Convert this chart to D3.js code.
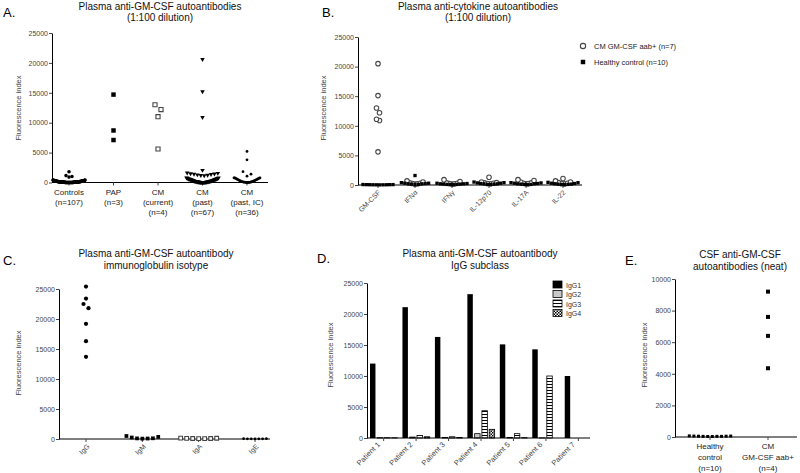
<!DOCTYPE html>
<html>
<head>
<meta charset="utf-8">
<script src="https://cdnjs.cloudflare.com/ajax/libs/d3/7.8.5/d3.min.js"></script>
<style>
  body { margin: 0; background: #fff; }
  svg { font-family: "Liberation Sans", Arial, sans-serif; }
</style>
</head>
<body>
<svg id="fig" width="800" height="473"></svg>
<script>
// ---- data ----
const ticks25k = [0, 5000, 10000, 15000, 20000, 25000];
const ticks10k = [0, 2000, 4000, 6000, 8000, 10000];

// A. plasma anti-GM-CSF (1:100)
const aGroups = ["Controls", "PAP", "CM (current)", "CM (past)", "CM (past, IC)"];
const aLabels = [["Controls", "(n=107)"], ["PAP", "(n=3)"], ["CM", "(current)", "(n=4)"],
                 ["CM", "(past)", "(n=67)"], ["CM", "(past, IC)", "(n=36)"]];
const aControls = [1800, 1150, 1000, 900,
  420, 400, 380, 360, 350, 340, 330, 320, 310, 300,
  290, 280, 270, 265, 260, 250, 245, 240, 235, 230,
  220, 215, 210, 200, 195, 190, 185, 180, 175, 170,
  165, 160, 155, 150, 150, 145, 140, 135, 130, 130,
  125, 120, 115, 110, 110, 105, 100, 100, 95, 90,
  90, 85, 80, 80, 75, 70, 70, 65, 60, 60,
  55, 50, 50, 45, 40, 40, 35, 30, 30, 25,
  25, 20, 20, 15, 15, 10, 10, 10, 5, 5,
  5, 0, 0, 0, 0, 0, 0, 0, 0, 0,
  0, 0, 0, 0, 0, 0, 0, 35, 45, 65,
  85, 105, 140];
const aPAP = [14700, 8700, 7100];
const aCurrent = [13000, 12200, 11000, 5600];
const aPast = [20600, 15200, 10900, 2050, 1600, 1550, 1500, 1450, 1400, 1350, 1300, 1250, 1200, 1150,
  790, 770, 760, 720, 680, 650, 620, 600, 580, 570,
  560, 540, 520, 500, 480, 460, 440, 420, 400, 380,
  360, 340, 320, 300, 280, 260, 240, 220, 200, 190,
  180, 170, 160, 150, 140, 130, 120, 110, 100, 90,
  80, 70, 60, 50, 40, 35, 30, 25, 20, 15,
  10, 5, 0];
const aPastIC = [5200, 3800, 1800, 1400, 1050,
  790, 780, 760, 720, 680, 640, 600, 560, 520, 480,
  440, 400, 360, 320, 280, 250, 220, 190, 160, 140,
  120, 100, 80, 60, 50, 40, 30, 20, 10, 5, 0];

// B. anti-cytokine
const bCytokines = ["GM-CSF", "IFNα", "IFNγ", "IL-12p70", "IL-17A", "IL-22"];
const bAab = [
  [20500, 15100, 13000, 12200, 11100, 10900, 5600],
  [700, 500, 350, 300, 250, 200, 150],
  [900, 600, 350, 300, 250, 200, 150],
  [1300, 500, 400, 350, 300, 250, 200],
  [900, 750, 500, 350, 300, 250, 200],
  [1100, 700, 500, 400, 300, 250, 200]
];
const bHealthy = [
  [60, 40, 80, 30, 50, 20, 70, 40, 30, 60],
  [1600, 400, 300, 300, 250, 200, 200, 150, 100, 80],
  [300, 250, 200, 200, 150, 150, 100, 100, 80, 50],
  [500, 400, 350, 300, 250, 200, 200, 150, 100, 80],
  [400, 350, 300, 250, 200, 200, 150, 100, 100, 50],
  [450, 400, 300, 250, 200, 150, 150, 100, 80, 50]
];

// C. isotype
const cIsotypes = ["IgG", "IgM", "IgA", "IgE"];
const cIgG = [25400, 23400, 22500, 21800, 19200, 16300, 13700];
const cIgM = [500, 250, 100, 80, 60, 120, 350];
const cIgA = [150, 120, 100, 90, 80, 70, 60];
const cIgE = [60, 50, 40, 40, 30, 30, 20];

// D. IgG subclass
const dPatients = ["Patient 1", "Patient 2", "Patient 3", "Patient 4", "Patient 5", "Patient 6", "Patient 7"];
const dSubclasses = ["IgG1", "IgG2", "IgG3", "IgG4"];
const dIgG1 = [12000, 21100, 16300, 23200, 15100, 14300, 10000];
const dIgG2 = [50, 150, 100, 700, 100, 20, 0];
const dIgG3 = [50, 400, 200, 4400, 700, 10000, 0];
const dIgG4 = [30, 200, 100, 1400, 50, 0, 0];

// E. CSF
const eGroups = ["Healthy control", "CM GM-CSF aab+"];
const eLabels = [["Healthy", "control", "(n=10)"], ["CM", "GM-CSF aab+", "(n=4)"]];
const eHealthy = [60, 40, 50, 30, 70, 40, 50, 30, 60, 40];
const eCM = [9200, 7600, 6400, 4350];

// ---- helpers ----
const svg = d3.select("#fig");

const defs = svg.append("defs");
const stripes = defs.append("pattern").attr("id", "stripes")
  .attr("patternUnits", "userSpaceOnUse").attr("width", 6).attr("height", 3);
stripes.append("rect").attr("width", 6).attr("height", 3).attr("fill", "#fff");
stripes.append("rect").attr("width", 6).attr("height", 1).attr("fill", "#000");
const checks = defs.append("pattern").attr("id", "checks")
  .attr("patternUnits", "userSpaceOnUse").attr("width", 3).attr("height", 3);
checks.append("rect").attr("width", 3).attr("height", 3).attr("fill", "#fff");
checks.append("rect").attr("width", 1.5).attr("height", 1.5).attr("fill", "#000");
checks.append("rect").attr("x", 1.5).attr("y", 1.5).attr("width", 1.5).attr("height", 1.5).attr("fill", "#000");

function title(x, y, lines) {
  const t = svg.append("text").attr("x", x).attr("y", y)
    .attr("text-anchor", "middle").attr("font-size", 10).attr("fill", "#111");
  lines.forEach((l, i) => t.append("tspan").attr("x", x).attr("dy", i ? 11.5 : 0).text(l));
}

function letter(x, y, s) {
  svg.append("text").attr("x", x).attr("y", y).attr("font-size", 13).attr("fill", "#000").text(s);
}

function yAxis(y, x0, ticks) {
  const g = svg.append("g").attr("transform", `translate(${x0},0)`)
    .call(d3.axisLeft(y).tickValues(ticks).tickSize(3).tickSizeOuter(0).tickFormat(d3.format("d")));
  g.select(".domain").attr("stroke", "#000");
  g.selectAll(".tick line").attr("stroke", "#444");
  g.selectAll(".tick text").attr("fill", "#444").attr("font-size", 7)
    .attr("font-family", "Liberation Sans, Arial, sans-serif").attr("x", -4);
}

function yLabel(x, yc) {
  svg.append("text").attr("transform", `translate(${x},${yc}) rotate(-90)`)
    .attr("text-anchor", "middle").attr("font-size", 7.5).attr("fill", "#444")
    .text("Fluorescence index");
}

function xBase(x0, x1, y0, xs) {
  svg.append("line").attr("x1", x0).attr("x2", x1).attr("y1", y0).attr("y2", y0)
    .attr("stroke", "#000");
  svg.append("g").selectAll("line").data(xs).join("line")
    .attr("x1", d => d).attr("x2", d => d).attr("y1", y0).attr("y2", y0 + 3)
    .attr("stroke", "#444");
}

function rotLabels(xs, names, y0, dx, dy, size) {
  svg.append("g").selectAll("text").data(names).join("text")
    .attr("transform", (d, i) => `translate(${xs[i] + dx},${y0 + dy}) rotate(-45)`)
    .attr("text-anchor", "end").attr("font-size", size || 7).attr("fill", "#444")
    .text(d => d);
}

function stackLabels(xs, labels, y0, step) {
  labels.forEach((lines, i) => {
    const t = svg.append("text").attr("text-anchor", "middle").attr("font-size", 8).attr("fill", "#222");
    lines.forEach((l, j) => t.append("tspan").attr("x", xs[i]).attr("y", y0 + j * step).text(l));
  });
}

// GraphPad-like scatter: points grouped in rows of similar value,
// each row spread sideways (lowest in the middle, higher ones outward)
function binSwarm(items, cx, y, binPx, sMax, maxW) {
  const pts = items.map(it => ({ ...it, y: y(it.v) })).sort((a, b) => b.y - a.y);
  const bins = [];
  pts.forEach(p => {
    const last = bins[bins.length - 1];
    if (last && last[0].y - p.y < binPx) last.push(p); else bins.push([p]);
  });
  bins.forEach(b => {
    const n = b.length;
    const s = n > 1 ? Math.min(sMax, maxW / (n - 1)) : 0;
    b.forEach((p, i) => {
      let off;
      if (n % 2) off = i === 0 ? 0 : (i % 2 ? 1 : -1) * Math.ceil(i / 2) * s;
      else off = (i % 2 ? -1 : 1) * (Math.floor(i / 2) + 0.5) * s;
      p.x = cx + off;
    });
  });
  return pts;
}

const shapes = { circle: d3.symbolCircle, square: d3.symbolSquare, triangle: d3.symbolTriangle };
function marks(pts, shape, size, open, flip) {
  svg.append("g").selectAll("path").data(pts).join("path")
    .attr("transform", p => `translate(${p.x},${p.y})${flip ? " rotate(180)" : ""}`)
    .attr("d", d3.symbol(shapes[shape], size))
    .attr("fill", open ? "#fff" : "#000")
    .attr("stroke", open ? "#444" : "none")
    .attr("stroke-width", open ? 1.1 : 0);
}
const vals = arr => arr.map(v => ({ v }));

// ---- A ----
const yA = d3.scaleLinear().domain([0, 25000]).range([182.5, 33]);
const xA = d3.scalePoint().domain(aGroups).range([69, 247]);
letter(3, 17, "A.");
title(160, 9.5, ["Plasma anti-GM-CSF autoantibodies", "(1:100 dilution)"]);
yAxis(yA, 52, ticks25k);
yLabel(21, 108);
xBase(52, 268, yA(0), aGroups.map(g => xA(g)));
stackLabels(aGroups.map(g => xA(g)), aLabels, 195, 10);
marks(binSwarm(vals(aControls), xA(aGroups[0]), yA, 5, 3, 32), "circle", 10, false);
marks(binSwarm(vals(aPAP), xA(aGroups[1]), yA, 5, 5, 30), "square", 20, false);
marks(binSwarm(vals(aCurrent), xA(aGroups[2]), yA, 5, 6, 30), "square", 17, true);
marks(binSwarm(vals(aPast), xA(aGroups[3]), yA, 5, 3.4, 32), "triangle", 9, false, true);
marks(binSwarm(vals(aPastIC), xA(aGroups[4]), yA, 5, 4, 26), "circle", 6, false);

// ---- B ----
const yB = d3.scaleLinear().domain([0, 25000]).range([185, 37]);
const xB = d3.scalePoint().domain(bCytokines).range([378, 563]);
letter(322, 17, "B.");
title(478, 9.5, ["Plasma anti-cytokine autoantibodies", "(1:100 dilution)"]);
yAxis(yB, 358, ticks25k);
yLabel(326, 108);
xBase(358, 582, yB(0), bCytokines.map(c => xB(c)));
rotLabels(bCytokines.map(c => xB(c)), bCytokines, yB(0), 3, 8);
bCytokines.forEach((c, i) => {
  marks(binSwarm(vals(bAab[i]), xB(c), yB, 5, 3, 16), "circle", 16, true);
  marks(binSwarm(vals(bHealthy[i]), xB(c), yB, 5, 3.4, 30), "square", 11, false);
});
// legend
svg.append("path").attr("transform", "translate(583,46)").attr("d", d3.symbol(d3.symbolCircle, 22))
  .attr("fill", "#fff").attr("stroke", "#444").attr("stroke-width", 1.1);
svg.append("path").attr("transform", "translate(583,62)").attr("d", d3.symbol(d3.symbolSquare, 20))
  .attr("fill", "#000");
svg.append("text").attr("x", 594).attr("y", 49).attr("font-size", 7.5).attr("fill", "#222").text("CM GM-CSF aab+ (n=7)");
svg.append("text").attr("x", 594).attr("y", 65).attr("font-size", 7.5).attr("fill", "#222").text("Healthy control (n=10)");

// ---- C ----
const yC = d3.scaleLinear().domain([0, 25000]).range([439, 289]);
const xC = d3.scalePoint().domain(cIsotypes).range([86, 255]);
letter(3, 265, "C.");
title(156, 257, ["Plasma anti-GM-CSF autoantibody", "immunoglobulin isotype"]);
yAxis(yC, 59, ticks25k);
yLabel(21, 363);
xBase(59, 270, yC(0), cIsotypes.map(c => xC(c)));
rotLabels(cIsotypes.map(c => xC(c)), cIsotypes, yC(0), 4, 8);
marks(binSwarm(vals(cIgG), xC("IgG"), yC, 5, 5, 30), "circle", 14, false);
marks(binSwarm(vals(cIgM), xC("IgM"), yC, 5, 5.3, 34), "square", 14, false);
marks(binSwarm(vals(cIgA), xC("IgA"), yC, 5, 6, 38), "square", 14, true);
marks(binSwarm(vals(cIgE), xC("IgE"), yC, 5, 3.8, 24), "circle", 6, false);

// ---- D ----
const yD = d3.scaleLinear().domain([0, 25000]).range([438, 283]);
const xD = d3.scaleBand().domain(dPatients).range([370, 592]).paddingInner(0.16).paddingOuter(0);
const xD1 = d3.scaleBand().domain(dSubclasses).range([0, xD.bandwidth()]).paddingInner(0.25);
letter(317, 263, "D.");
title(480, 257, ["Plasma anti-GM-CSF autoantibody", "IgG subclass"]);
yAxis(yD, 367, ticks25k);
yLabel(333, 355);
const dSeries = [dIgG1, dIgG2, dIgG3, dIgG4];
const dFill = ["#000", "#c8c8c8", "url(#stripes)", "url(#checks)"];
dSeries.forEach((series, s) => {
  svg.append("g").selectAll("rect").data(series).join("rect")
    .attr("x", (d, i) => xD(dPatients[i]) + xD1(dSubclasses[s]))
    .attr("y", d => yD(d))
    .attr("width", xD1.bandwidth())
    .attr("height", d => yD(0) - yD(d))
    .attr("fill", dFill[s])
    .attr("stroke", "#000").attr("stroke-width", s === 0 ? 0 : 0.8);
});
xBase(367, 590, yD(0), dPatients.map(p => xD(p) + xD.bandwidth() / 2));
rotLabels(dPatients.map(p => xD(p) + xD.bandwidth() / 2), dPatients, yD(0), -3, 7, 7.5);
dSubclasses.forEach((s, i) => {
  svg.append("rect").attr("x", 553).attr("y", 281 + i * 9.5).attr("width", 9).attr("height", 7)
    .attr("fill", dFill[i]).attr("stroke", "#000").attr("stroke-width", 0.8);
  svg.append("text").attr("x", 566).attr("y", 287.5 + i * 9.5).attr("font-size", 7)
    .attr("fill", "#333").text(s);
});

// ---- E ----
const yE = d3.scaleLinear().domain([0, 10000]).range([437, 279]);
const xE = d3.scalePoint().domain(eGroups).range([710, 768]);
letter(625, 265, "E.");
title(740, 258, ["CSF anti-GM-CSF", "autoantibodies (neat)"]);
yAxis(yE, 675, ticks10k);
yLabel(647, 355);
xBase(675, 797, yE(0), eGroups.map(g => xE(g)));
stackLabels(eGroups.map(g => xE(g)), eLabels, 449, 11);
marks(binSwarm(vals(eHealthy), xE(eGroups[0]), yE, 5, 4.6, 45), "square", 9, false);
marks(binSwarm(vals(eCM), xE(eGroups[1]), yE, 5, 5, 30), "square", 16, false);
</script>
</body>
</html>
